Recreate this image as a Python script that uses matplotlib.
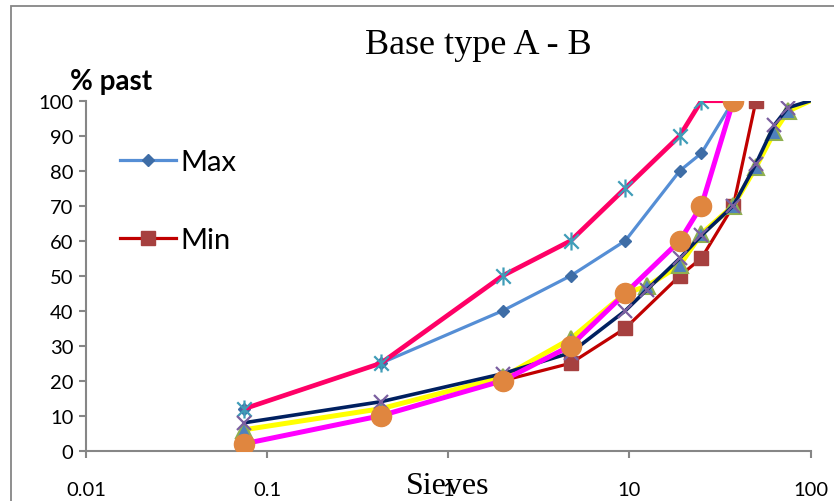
import matplotlib.pyplot as plt
from matplotlib.path import Path
from matplotlib.patches import Rectangle
from matplotlib.lines import Line2D

WIDTH = 834
HEIGHT = 502

# sieve sizes (mm) and % passing
sieves_max = [0.075, 0.425, 2, 4.75, 9.5, 19, 25, 37.5]
pass_max = [12, 25, 40, 50, 60, 80, 85, 100]

sieves_min = [0.075, 0.425, 2, 4.75, 9.5, 19, 25, 37.5, 50]
pass_min = [2, 10, 20, 25, 35, 50, 55, 70, 100]

sieves_upper = [0.075, 0.425, 2, 4.75, 9.5, 19, 25, 37.5]
pass_upper = [12, 25, 50, 60, 75, 90, 100, 100]

sieves_lower = [0.075, 0.425, 2, 4.75, 9.5, 19, 25, 37.5]
pass_lower = [2, 10, 20, 30, 45, 60, 70, 100]

sieves_mix = [0.075, 0.425, 2, 4.75, 9.5, 12.5, 19, 25, 37.5, 50, 63, 75, 100]
pass_yellow = [6, 12, 21, 32, 45, 47, 53, 62, 70, 81, 91, 97, 100]
pass_navy = [8, 14, 22, 28, 40, 46, 55, 61.5, 70, 82, 93, 98, 100]

y_ticks = list(range(0, 101, 10))
x_ticks = [0.01, 0.1, 1, 10, 100]
x_ticklabels = ["0.01", "0.1", "1", "10", "100"]

TICK_FONT = "Lato"
GRAY = "#868686"

# Excel style asterisk: vertical bar plus an X
asterisk = Path(
    [(0, -1), (0, 1), (-0.8, -0.8), (0.8, 0.8), (-0.8, 0.8), (0.8, -0.8)],
    [Path.MOVETO, Path.LINETO, Path.MOVETO, Path.LINETO, Path.MOVETO, Path.LINETO],
)

fig = plt.figure(figsize=(WIDTH / 100, HEIGHT / 100), dpi=100)
ax = fig.add_axes([86 / WIDTH, 1 - 451.7 / HEIGHT, (810.5 - 86) / WIDTH, (451.7 - 101.7) / HEIGHT])

# outer chart border (only top and left visible in the crop)
fig.patches.append(Rectangle((11 / WIDTH, -0.1), 1.2, 1 - 7 / HEIGHT + 0.1,
                             transform=fig.transFigure, fill=False,
                             edgecolor=GRAY, linewidth=1.3))

ax.plot(sieves_max, pass_max, color="#558ED5", lw=2.3, marker="D", ms=6.5,
        mfc="#3E6DA6", mec="#3E6DA6", label="Max", zorder=3)
ax.plot(sieves_min, pass_min, color="#C00000", lw=2.3, marker="s", ms=10,
        mfc="#A6403F", mec="#A6403F", label="Min", zorder=3)
ax.plot(sieves_upper, pass_upper, color="#FF0066", lw=3.4, marker=asterisk, ms=13,
        mfc="none", mec="#3F9DB8", mew=1.6, zorder=4)
ax.plot(sieves_mix, pass_yellow, color="#FFFF00", lw=3.6, marker="^", ms=11,
        mfc="#4F81BD", mec="#8FB050", mew=1.5, markevery=list(range(len(sieves_mix) - 1)),
        zorder=5)
ax.plot(sieves_mix, pass_navy, color="#002060", lw=2.6, marker="x", ms=10,
        mec="#7B5FA0", mew=1.6, markevery=list(range(len(sieves_mix) - 1)), zorder=6)
ax.plot(sieves_lower, pass_lower, color="#FF00FF", lw=3.6, marker="o", ms=14.5,
        mfc="#E0863F", mec="#E0863F", zorder=7)

ax.set_xscale("log")
ax.set_xlim(0.01, 100)
ax.set_ylim(0, 100)
ax.set_xticks(x_ticks)
ax.set_xticklabels(x_ticklabels)
ax.minorticks_off()
ax.set_yticks(y_ticks)

for side in ["top", "right"]:
    ax.spines[side].set_visible(False)
for side in ["left", "bottom"]:
    ax.spines[side].set_color(GRAY)
    ax.spines[side].set_linewidth(1.5)
ax.tick_params(axis="both", direction="out", length=5, width=1.5, color=GRAY,
               labelsize=14.5, pad=4)
ax.tick_params(axis="x", pad=17)
for lbl in ax.get_xticklabels() + ax.get_yticklabels():
    lbl.set_fontfamily(TICK_FONT)

fig.text(478 / WIDTH, 1 - 45 / HEIGHT, "Base type A - B", ha="center", va="center",
         fontsize=26, family="Liberation Serif")
fig.text(70 / WIDTH, 1 - 82 / HEIGHT, "% past", ha="left", va="center",
         fontsize=20, fontweight="bold", family=TICK_FONT)
fig.text(447.5 / WIDTH, 1 - 487 / HEIGHT, "Sieves", ha="center", va="center",
         fontsize=23, family="Liberation Serif")

handles = [
    Line2D([], [], color="#558ED5", lw=2.3, marker="D", ms=6.5, mfc="#3E6DA6", mec="#3E6DA6"),
    Line2D([], [], color="#C00000", lw=2.3, marker="s", ms=10, mfc="#A6403F", mec="#A6403F"),
]
leg = ax.legend(handles, ["Max", "Min"], loc="upper left", bbox_to_anchor=(0.027, 0.904),
                frameon=False, fontsize=21, labelspacing=1.78, handlelength=1.9,
                handletextpad=0.15, borderpad=0)
for t in leg.get_texts():
    t.set_fontfamily(TICK_FONT)

fig.savefig("out.png", dpi=100)
